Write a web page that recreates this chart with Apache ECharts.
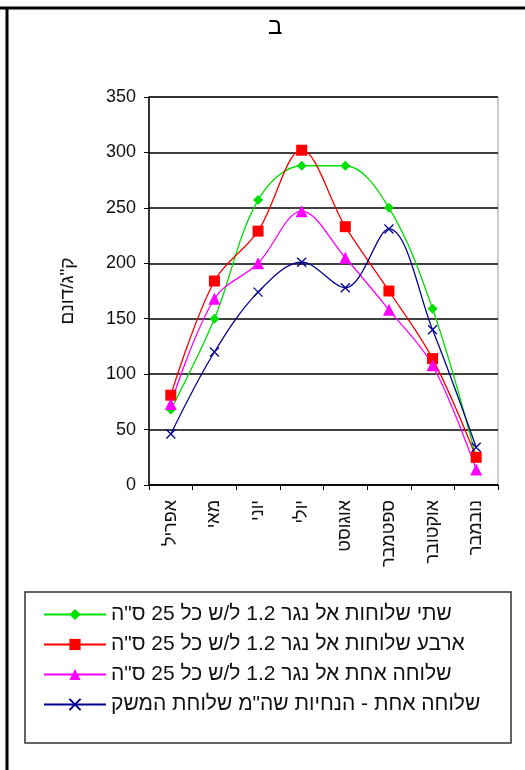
<!DOCTYPE html>
<html>
<head>
<meta charset="utf-8">
<script src="https://cdn.jsdelivr.net/npm/echarts@6/dist/echarts.min.js"></script>
<style>
html,body{margin:0;padding:0;background:#fff}
#main{width:525px;height:770px}
</style>
</head>
<body>
<div id="main"></div>
<script>
// נתונים
var months=['אפריל','מאי','יוני','יולי','אוגוסט','ספטמבר','אוקטובר','נובמבר']
var seriesNames=[
    'שתי שלוחות אל נגר 1.2 ל/ש כל 25 ס"ה',
    'ארבע שלוחות אל נגר 1.2 ל/ש כל 25 ס"ה',
    'שלוחה אחת אל נגר 1.2 ל/ש כל 25 ס"ה',
    'שלוחה אחת - הנחיות שה"מ שלוחת המשק'
]
var twoLines=[68,150,257,288,288,250,159,25]
var fourLines=[81,184,229,302,233,175,114,25]
var oneLine=[73,168,200,247,205,158,108,14]
var farmLine=[46,120,174,201,178,231,140,34]
var yTicks=[0,50,100,150,200,250,300,350]

var font='Liberation Sans, Arial, sans-serif'

function mkSeries(name,data,color,symbol,size,extra){
    var s={
        name:name,type:'line',data:data,smooth:0.35,
        symbol:symbol,symbolSize:size,
        lineStyle:{color:color,width:1.3},
        itemStyle:{color:color},
        emphasis:{disabled:true}
    }
    if(extra) s.itemStyle=extra
    return s
}

var myChart=echarts.init(document.getElementById('main'),null,{renderer:'canvas'})
var option={
    animation:false,
    title:{
        text:'ב',left:263,top:10,
        textStyle:{fontFamily:font,fontSize:24,fontWeight:'normal',color:'#000'}
    },
    grid:{left:149,right:27,top:97,bottom:285,show:true,borderColor:'#999',borderWidth:1},
    xAxis:{
        type:'category',data:months,boundaryGap:true,
        axisLine:{lineStyle:{color:'#000',width:1.5}},
        axisTick:{show:true,length:5,lineStyle:{color:'#000'}},
        axisLabel:{rotate:90,margin:15,color:'#111',fontFamily:font,fontSize:18,interval:0}
    },
    yAxis:{
        type:'value',min:yTicks[0],max:yTicks[yTicks.length-1],interval:50,
        name:'ק"ג/דונם',nameLocation:'middle',nameGap:72,
        nameTextStyle:{fontFamily:font,fontSize:19,color:'#111'},
        axisLine:{show:true,lineStyle:{color:'#000',width:1.5}},
        axisTick:{show:true,length:5,lineStyle:{color:'#000'}},
        axisLabel:{margin:13,color:'#111',fontFamily:font,fontSize:18},
        splitLine:{show:true,lineStyle:{color:'#000',width:1.5}}
    },
    legend:{
        orient:'vertical',left:43,top:604,
        padding:0,itemGap:9,itemWidth:62,itemHeight:14,
        textStyle:{fontFamily:font,fontSize:21,color:'#111'},
        data:seriesNames
    },
    graphic:[
        {type:'line',shape:{x1:0,y1:8,x2:525,y2:8},style:{stroke:'#000',lineWidth:3}},
        {type:'line',shape:{x1:7,y1:8,x2:7,y2:770},style:{stroke:'#000',lineWidth:3}},
        {type:'rect',z:-1,shape:{x:25,y:592,width:486,height:151},style:{fill:'#fff',stroke:'#333',lineWidth:1.5}}
    ],
    series:[
        mkSeries(seriesNames[0],twoLines,'#00e000','diamond',10),
        mkSeries(seriesNames[1],fourLines,'#ff0000','rect',11),
        mkSeries(seriesNames[2],oneLine,'#ff00ff','triangle',12),
        mkSeries(seriesNames[3],farmLine,'#000090','path://M0,0L10,10M10,0L0,10',9,
            {color:'#000090',borderColor:'#000090',borderWidth:1.3})
    ]
}
myChart.setOption(option)
</script>
</body>
</html>
